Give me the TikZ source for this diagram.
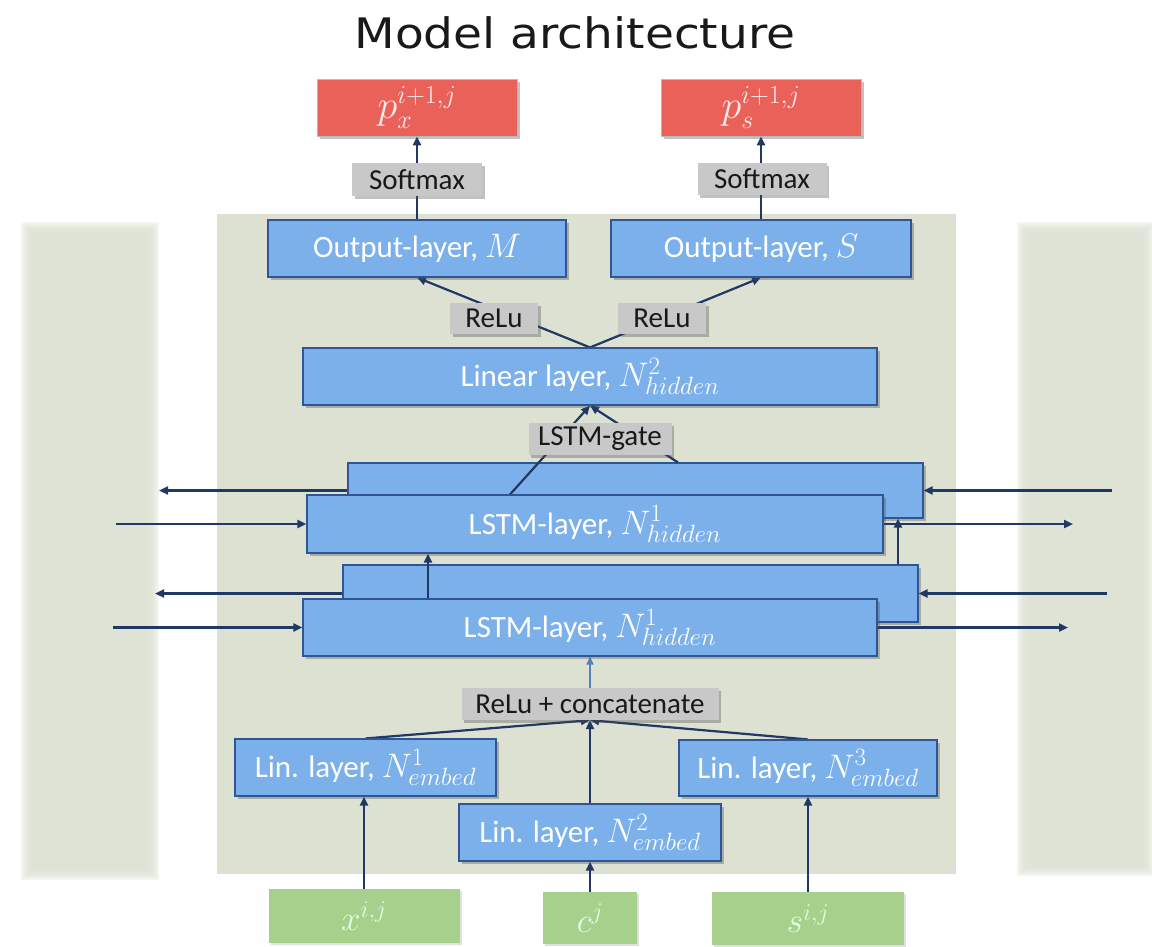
\RequirePackage{fix-cm}
\documentclass[tikz,border=0pt]{standalone}
\usepackage{fontspec}
\setmainfont{Carlito}
\newfontfamily\titlefont{DejaVu Sans}
\usetikzlibrary{shadows,arrows.meta,calc}

% larger math and scripts inside the boxes
\DeclareMathSizes{31}{34}{25}{19}
\DeclareMathSizes{34}{40}{26}{20}
\DeclareMathSizes{32}{35}{24}{18}

\definecolor{panel}{RGB}{220,225,210}
\definecolor{boxblue}{RGB}{124,176,234}
\definecolor{boxedge}{RGB}{47,85,151}
\definecolor{outred}{RGB}{233,97,89}
\definecolor{labelgrey}{RGB}{200,200,200}
\definecolor{ingreen}{RGB}{168,208,141}
\definecolor{navy}{RGB}{31,56,100}
\definecolor{paleblue}{RGB}{84,130,190}

\pgfdeclarelayer{backdrop}
\pgfdeclarelayer{behind}
\pgfdeclarelayer{edges}
\pgfsetlayers{backdrop,behind,edges,main}

\tikzset{
  softshadow/.style={drop shadow={shadow xshift=2.5pt, shadow yshift=-3pt, opacity=.35, fill=black!70}},
  layerbox/.style={draw=boxedge, line width=1.1pt, fill=boxblue, text=white, inner sep=0pt,
    font=\fontsize{31}{31}\selectfont, softshadow},
  outbox/.style={draw=gray!55, line width=.8pt, fill=outred, text=white!92!red, inner sep=0pt,
    font=\fontsize{34}{34}\selectfont, softshadow},
  inbox/.style={fill=ingreen, text=white!88!green, inner sep=0pt,
    font=\fontsize{32}{32}\selectfont, drop shadow={shadow xshift=2pt, shadow yshift=-2pt, opacity=.2, fill=black!60}},
  oplabel/.style={fill=labelgrey, text=black!90, inner sep=0pt,
    font=\fontsize{29}{29}\selectfont, softshadow},
  conn/.style={draw=navy, line width=2.2pt, -{Triangle[length=9pt,width=8pt]}},
}

\begin{document}
\begin{tikzpicture}[x=1pt,y=-1pt]
\useasboundingbox (0,0) rectangle (1152,946);

% ---- panels
\begin{pgfonlayer}{backdrop}
  \fill[panel] (217,214) rectangle (956,874);
  \foreach \i in {0,...,6}{
    \fill[panel, opacity=.33] ({21+2*\i},{222+2*\i}) rectangle ({159-2*\i},{880-2*\i});
    \fill[panel, opacity=.33] ({1017+2*\i},{222+2*\i}) rectangle ({1154-2*\i},{876-2*\i});
  }
\end{pgfonlayer}

% ---- title
\node[font=\titlefont\fontsize{42}{42}\selectfont, text=black!90, xscale=1.12] (title) at (575,33) {Model architecture};

% ---- outputs
\node[outbox, minimum width=200pt, minimum height=57pt] (redL) at (417,107.5) {$p_x^{i+1,j}$};
\node[outbox, minimum width=200pt, minimum height=57pt] (redR) at (761,107.5) {$p_s^{i+1,j}$};

\node[oplabel, minimum width=130pt, minimum height=33pt] (softL) at (417,179.5) {Softmax};
\node[oplabel, minimum width=129pt, minimum height=32pt] (softR) at (762,179) {Softmax};

\node[layerbox, minimum width=298pt, minimum height=57pt] (outM) at (417,248.5) {Output-layer, $M$};
\node[layerbox, minimum width=300pt, minimum height=57pt] (outS) at (761,248.5) {Output-layer, $S$};

\node[oplabel, minimum width=88pt, minimum height=31pt] (reluL) at (494,318.5) {ReLu};
\node[oplabel, minimum width=88pt, minimum height=31pt] (reluR) at (662,318.5) {ReLu};

\node[layerbox, minimum width=574pt, minimum height=57pt] (linear) at (590,376.5) {Linear layer, $N^2_{hidden}$};

\node[oplabel, minimum width=143pt, minimum height=32pt] (gate) at (600,439) {LSTM-gate};

% ---- stacked bidirectional LSTM layers (backward copies sit behind)
\begin{pgfonlayer}{behind}
  \node[layerbox, minimum width=575pt, minimum height=55pt] (lstmB) at (635.5,490.5) {};
  \node[layerbox, minimum width=575pt, minimum height=57pt] (lstmD) at (630.5,593.5) {};
\end{pgfonlayer}
\node[layerbox, minimum width=576pt, minimum height=58pt] (lstmA) at (595,524) {LSTM-layer, $N^1_{hidden}$};
\node[layerbox, minimum width=574pt, minimum height=57pt] (lstmC) at (590,627.5) {LSTM-layer, $N^1_{hidden}$};

% ---- embedding
\node[oplabel, minimum width=257pt, minimum height=32pt] (concat) at (590,704) {ReLu + concatenate};

\node[layerbox, minimum width=261pt, minimum height=57pt] (lin1) at (365.5,767.5) {Lin. layer, $N^1_{embed}$};
\node[layerbox, minimum width=262pt, minimum height=57pt] (lin2) at (590,832.5) {Lin. layer, $N^2_{embed}$};
\node[layerbox, minimum width=258pt, minimum height=56pt] (lin3) at (808,768) {Lin. layer, $N^3_{embed}$};

\node[inbox, minimum width=191pt, minimum height=54pt] (gx) at (364,916) {$x^{i,j}$};
\node[inbox, minimum width=94pt, minimum height=52pt] (gc) at (590,918) {$c^{j}$};
\node[inbox, minimum width=192pt, minimum height=53pt] (gs) at (808,918.5) {$s^{i,j}$};

% ---- free ends of the recurrent links
\coordinate (bUout) at (159,0);
\coordinate (aUin)  at (116,0);
\coordinate (aUout) at (1073,0);
\coordinate (bUin)  at (1112,0);
\coordinate (dLout) at (155,0);
\coordinate (cLin)  at (113,0);
\coordinate (cLout) at (1068,0);
\coordinate (dLin)  at (1107,0);

\begin{pgfonlayer}{edges}
  % inputs to embeddings
  \draw[conn] (gx.north) -- (gx.north |- lin1.south);
  \draw[conn] (gc.north) -- (lin2.south);
  \draw[conn] (gs.north) -- (gs.north |- lin3.south);
  % embeddings to concatenation
  \draw[conn] (lin1.north) -- (concat.south);
  \draw[conn] (lin3.north) -- (concat.south);
  \draw[conn] (lin2.north) -- (concat.south);
  % concatenation to first LSTM layer
  \draw[draw=paleblue, line width=1.6pt, -{Triangle[length=8pt,width=7pt]}] (concat.north) -- (lstmC.south);
  % between LSTM layers
  \draw[conn] ([xshift=-162pt]lstmC.north) -- ([xshift=-162pt]lstmC.north |- lstmA.south);
  \draw[conn] ([xshift=267.5pt]lstmD.north) -- ([xshift=267.5pt]lstmD.north |- lstmB.south);
  % recurrent links
  \draw[conn] (lstmB.west) -- (lstmB.west -| bUout);
  \draw[conn] (lstmA.west -| aUin) -- (lstmA.west);
  \draw[conn] (lstmA.east) -- (lstmA.east -| aUout);
  \draw[conn] (lstmB.east -| bUin) -- (lstmB.east);
  \draw[conn] (lstmD.west) -- (lstmD.west -| dLout);
  \draw[conn] (lstmC.west -| cLin) -- (lstmC.west);
  \draw[conn] (lstmC.east) -- (lstmC.east -| cLout);
  \draw[conn] (lstmD.east -| dLin) -- (lstmD.east);
  % LSTM gate into linear layer
  \draw[conn] ([xshift=-85pt]lstmA.north) -- (linear.south);
  \draw[conn] ([xshift=42.5pt]lstmB.north) -- (linear.south);
  % linear layer to output layers
  \draw[conn] (linear.north) -- (outM.south);
  \draw[conn] (linear.north) -- (outS.south);
  % output layers to probabilities
  \draw[conn] (outM.north) -- (redL.south);
  \draw[conn] (outS.north) -- (redR.south);
\end{pgfonlayer}
\end{tikzpicture}
\end{document}
